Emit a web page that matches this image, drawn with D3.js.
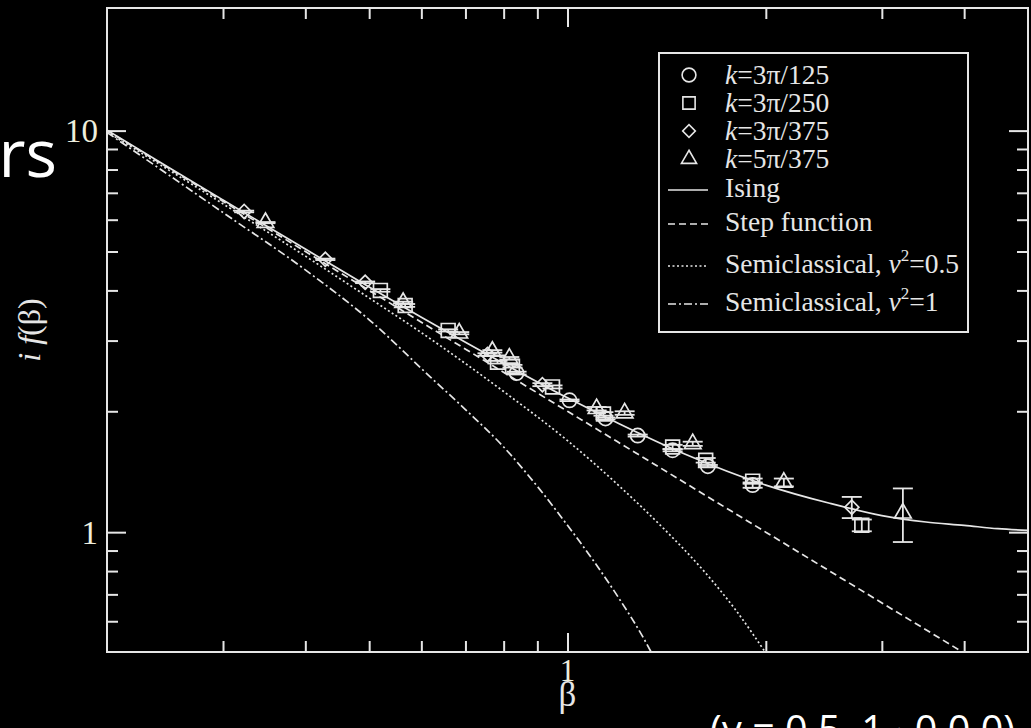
<!DOCTYPE html>
<html>
<head>
<meta charset="utf-8">
<script src="https://cdn.jsdelivr.net/npm/d3@7"></script>
<style>
  html, body { margin: 0; padding: 0; background: #000; overflow: hidden; }
  svg { display: block; }
</style>
</head>
<body>
<div class="container"></div>
<script>
// theory curves
const isingBeta = [0.2, 0.25, 0.3, 0.4, 0.5, 0.6, 0.7, 0.8, 1, 1.2, 1.5, 2, 2.5, 3, 3.5, 4, 4.5, 5];
const isingVal  = [10.03, 8.04, 6.72, 5.07, 4.08, 3.43, 2.97, 2.63, 2.16, 1.86, 1.57, 1.31, 1.18, 1.10, 1.06, 1.04, 1.02, 1.01];

const stepBeta = [0.2, 0.5, 1, 2, 4];
const stepVal  = [10, 4, 2, 1, 0.5];

const semiHalfBeta = [0.2, 0.3, 0.4, 0.5, 0.6, 0.8, 1, 1.2, 1.4, 1.6, 1.8, 2.0];
const semiHalfVal  = [9.93, 6.57, 4.87, 3.83, 3.14, 2.24, 1.69, 1.30, 1.02, 0.81, 0.64, 0.5];

const semiOneBeta = [0.2, 0.3, 0.4, 0.5, 0.62, 0.7, 0.8, 0.9, 1.0, 1.1, 1.2, 1.3, 1.342];
const semiOneVal  = [9.9, 6.25, 4.5, 3.38, 2.43, 2.02, 1.63, 1.30, 1.04, 0.84, 0.68, 0.55, 0.5];

// measured points
const circBeta = [0.837, 1.007, 1.142, 1.278, 1.444, 1.633, 1.910];
const circVal  = [2.49, 2.13, 1.92, 1.74, 1.60, 1.46, 1.31];
const circErr  = [0.02, 0.01, 0.01, 0.01, 0.01, 0.01, 0.02];

const sqBeta = [0.520, 0.567, 0.659, 0.783, 0.825, 0.949, 1.134, 1.444, 1.621, 1.910, 2.797];
const sqVal  = [4.00, 3.67, 3.18, 2.65, 2.59, 2.30, 1.97, 1.63, 1.51, 1.34, 1.04];
const sqErr  = [0.03, 0.03, 0.02, 0.02, 0.02, 0.02, 0.02, 0.02, 0.02, 0.02, 0.035];

const diaBeta = [0.323, 0.429, 0.493, 0.756, 0.916, 2.701];
const diaVal  = [6.29, 4.78, 4.19, 2.77, 2.33, 1.154];
const diaErr  = [0.03, 0.02, 0.02, 0.02, 0.02, 0.07];

const triBeta = [0.348, 0.563, 0.685, 0.769, 0.816, 1.107, 1.221, 1.549, 2.130, 3.229];
const triVal  = [5.90, 3.73, 3.13, 2.82, 2.71, 2.03, 1.98, 1.66, 1.33, 1.115];
const triErr  = [0.02, 0.02, 0.02, 0.02, 0.02, 0.02, 0.02, 0.02, 0.03, 0.17];

// ticks
const xMajor = [1];
const xMinor = [0.3, 0.4, 0.5, 0.6, 0.7, 0.8, 0.9, 2, 3, 4];
const yMajor = [1, 10];
const yMinor = [0.6, 0.7, 0.8, 0.9, 2, 3, 4, 5, 6, 7, 8, 9];

const width = 1031;
const height = 728;
const margin = { top: 8, right: 3, bottom: 76, left: 107 };
const innerWidth = width - (margin.left + margin.right);
const innerHeight = height - (margin.top + margin.bottom);

const fg = "#e6e6e6";
const serif = "'Liberation Serif', 'Times New Roman', serif";

let svg = d3.select(".container").append("svg")
  .attr("width", width).attr("height", height)
  .style("background", "#000");

let xScale = d3.scaleLog([0.2, 5], [0, innerWidth]);
let yScale = d3.scaleLog([0.503, 20.2], [innerHeight, 0]);

let g = svg.append("g")
  .attr("transform", `translate(${margin.left}, ${margin.top})`);

g.append("clipPath").attr("id", "plotclip")
  .append("rect").attr("width", innerWidth).attr("height", innerHeight);

// axes: mirrored ticks on all four sides, pointing inwards
function drawAxes() {
  const major = 19, minor = 11;
  const sets = [
    [d3.axisBottom, xScale, xMajor, major, `translate(0, ${innerHeight})`],
    [d3.axisBottom, xScale, xMinor, minor, `translate(0, ${innerHeight})`],
    [d3.axisTop, xScale, xMajor, major, "translate(0, 0)"],
    [d3.axisTop, xScale, xMinor, minor, "translate(0, 0)"],
    [d3.axisLeft, yScale, yMajor, major, "translate(0, 0)"],
    [d3.axisLeft, yScale, yMinor, minor, "translate(0, 0)"],
    [d3.axisRight, yScale, yMajor, major, `translate(${innerWidth}, 0)`],
    [d3.axisRight, yScale, yMinor, minor, `translate(${innerWidth}, 0)`]
  ];
  sets.forEach(([fn, sc, vals, len, tr]) => {
    let ax = fn(sc).tickValues(vals).tickSizeInner(-len).tickSizeOuter(0)
      .tickFormat(() => "");
    let ga = g.append("g").attr("transform", tr).call(ax);
    ga.select(".domain").remove();
    ga.selectAll("line").attr("stroke", fg).attr("stroke-width", 2);
  });

  // frame
  g.append("rect")
    .attr("width", innerWidth).attr("height", innerHeight)
    .attr("fill", "none").attr("stroke", fg).attr("stroke-width", 2);

  // tick labels
  g.selectAll(".ylab").data(yMajor).enter().append("text")
    .attr("x", -9).attr("y", (d) => yScale(d))
    .attr("dy", "0.35em").attr("text-anchor", "end")
    .attr("fill", "#eeeedd").attr("font-family", serif).attr("font-size", 33)
    .text((d) => d);

  g.selectAll(".xlab").data(xMajor).enter().append("text")
    .attr("x", (d) => xScale(d)).attr("y", innerHeight + 29)
    .attr("text-anchor", "middle")
    .attr("fill", "#eeeedd").attr("font-family", serif).attr("font-size", 31)
    .text((d) => d);
}
drawAxes();

// axis titles
svg.append("text")
  .attr("x", margin.left + xScale(1)).attr("y", 706)
  .attr("text-anchor", "middle")
  .attr("fill", fg).attr("font-family", serif).attr("font-size", 35)
  .text("β");

let ylab = svg.append("text")
  .attr("transform", `translate(40, ${margin.top + innerHeight / 2}) rotate(-90)`)
  .attr("text-anchor", "middle")
  .attr("fill", fg).attr("font-family", serif).attr("font-size", 32);
ylab.append("tspan").attr("font-style", "italic").text("i f");
ylab.append("tspan").text("(β)");

// curves
let plot = g.append("g").attr("clip-path", "url(#plotclip)");

let line = d3.line()
  .x((d) => xScale(d[0]))
  .y((d) => yScale(d[1]))
  .curve(d3.curveMonotoneX);

const curves = [
  [isingBeta, isingVal, null],
  [stepBeta, stepVal, "7,4"],
  [semiHalfBeta, semiHalfVal, "2,2.5"],
  [semiOneBeta, semiOneVal, "8,3,2,3"]
];
curves.forEach(([bs, vs, dash]) => {
  plot.append("path")
    .datum(bs.map((b, i) => [b, vs[i]]))
    .attr("d", line)
    .attr("fill", "none")
    .attr("stroke", fg)
    .attr("stroke-width", 1.7)
    .attr("stroke-dasharray", dash);
});

// markers with error bars
const series = [
  [circBeta, circVal, circErr, d3.symbolCircle, 160, 0],
  [sqBeta, sqVal, sqErr, d3.symbolSquare, 190, 0],
  [diaBeta, diaVal, diaErr, d3.symbolSquare, 100, 45],
  [triBeta, triVal, triErr, d3.symbolTriangle, 120, 0]
];
const cap = 10;
series.forEach(([bs, vs, es, type, size, rot]) => {
  let pts = bs.map((b, i) => ({ b: b, v: vs[i], e: es[i] }));
  let gs = plot.append("g");
  let eb = gs.selectAll(".eb").data(pts).enter().append("g");
  eb.append("line")
    .attr("x1", (d) => xScale(d.b)).attr("x2", (d) => xScale(d.b))
    .attr("y1", (d) => yScale(d.v + d.e)).attr("y2", (d) => yScale(d.v - d.e));
  eb.append("line")
    .attr("x1", (d) => xScale(d.b) - cap).attr("x2", (d) => xScale(d.b) + cap)
    .attr("y1", (d) => yScale(d.v + d.e)).attr("y2", (d) => yScale(d.v + d.e));
  eb.append("line")
    .attr("x1", (d) => xScale(d.b) - cap).attr("x2", (d) => xScale(d.b) + cap)
    .attr("y1", (d) => yScale(d.v - d.e)).attr("y2", (d) => yScale(d.v - d.e));
  eb.selectAll("line").attr("stroke", fg).attr("stroke-width", 1.8);

  gs.selectAll(".pt").data(pts).enter().append("path")
    .attr("d", d3.symbol().type(type).size(size))
    .attr("transform", (d) => `translate(${xScale(d.b)}, ${yScale(d.v)}) rotate(${rot})`)
    .attr("fill", "none")
    .attr("stroke", fg)
    .attr("stroke-width", 1.7);
});

// legend
const legendLabels = [
  ["k", "=3π/125"], ["k", "=3π/250"], ["k", "=3π/375"], ["k", "=5π/375"]
];
const lineLabels = ["Ising", "Step function", "Semiclassical, ", "Semiclassical, "];
const lineSup = [null, null, "=0.5", "=1"];
const lineDash = [null, "7,4", "2,2.5", "8,3,2,3"];
const symbolTypes = [[d3.symbolCircle, 150, 0], [d3.symbolSquare, 150, 0], [d3.symbolSquare, 80, 45], [d3.symbolTriangle, 100, 0]];
const rowY = [75, 103, 131, 159, 188, 222, 264, 302];

let lg = svg.append("g");
lg.append("rect")
  .attr("x", 659).attr("y", 53).attr("width", 309).attr("height", 279)
  .attr("fill", "#000").attr("stroke", fg).attr("stroke-width", 2);

legendLabels.forEach(([k, rest], i) => {
  lg.append("path")
    .attr("d", d3.symbol().type(symbolTypes[i][0]).size(symbolTypes[i][1]))
    .attr("transform", `translate(689, ${rowY[i]}) rotate(${symbolTypes[i][2]})`)
    .attr("fill", "none").attr("stroke", fg).attr("stroke-width", 1.6);
  let t = lg.append("text")
    .attr("x", 725).attr("y", rowY[i] + 9)
    .attr("fill", fg).attr("font-family", serif).attr("font-size", 27.5);
  t.append("tspan").attr("font-style", "italic").text(k);
  t.append("tspan").text(rest);
});

lineLabels.forEach((lab, j) => {
  let y = rowY[4 + j];
  lg.append("line")
    .attr("x1", 668).attr("x2", 708).attr("y1", y + 2).attr("y2", y + 2)
    .attr("stroke", fg).attr("stroke-width", 1.6)
    .attr("stroke-dasharray", lineDash[j]);
  let t = lg.append("text")
    .attr("x", 725).attr("y", y + 9)
    .attr("fill", fg).attr("font-family", serif).attr("font-size", 27.5);
  t.append("tspan").text(lab);
  if (lineSup[j]) {
    t.append("tspan").attr("font-style", "italic").text("v");
    t.append("tspan").attr("dy", -12).attr("font-size", 17).text("2");
    t.append("tspan").attr("dy", 12).text(lineSup[j]);
  }
});

// slide text around the figure
svg.append("text")
  .attr("x", 57).attr("y", 177)
  .attr("text-anchor", "end")
  .attr("fill", "#fff").attr("font-family", "'Open Sans', 'Noto Sans', sans-serif")
  .attr("font-size", 66)
  .text("rs");

svg.append("text")
  .attr("x", 710).attr("y", 744)
  .attr("textLength", 305).attr("lengthAdjust", "spacingAndGlyphs")
  .attr("fill", "#fff").attr("font-family", "'Open Sans', 'Noto Sans', sans-serif")
  .attr("font-size", 40)
  .text("(γ = 0.5, 1 · 0.0 0)");
</script>
</body>
</html>
